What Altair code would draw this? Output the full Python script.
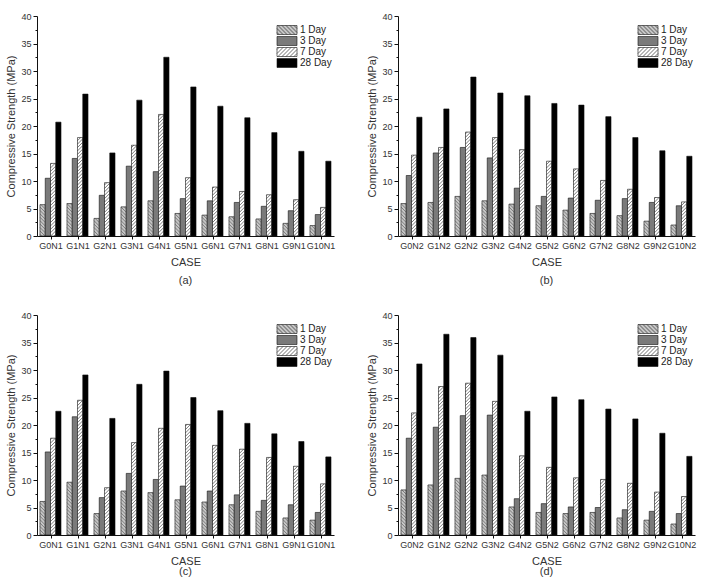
import json

import altair as alt
import pandas as pd

FONT = "Liberation Sans"

ages = ["1 Day", "3 Day", "7 Day", "28 Day"]
cases_n1 = ["G0N1", "G1N1", "G2N1", "G3N1", "G4N1", "G5N1",
            "G6N1", "G7N1", "G8N1", "G9N1", "G10N1"]
cases_n2 = ["G0N2", "G1N2", "G2N2", "G3N2", "G4N2", "G5N2",
            "G6N2", "G7N2", "G8N2", "G9N2", "G10N2"]

# (a) N1 series
a_day1 = [5.7, 5.9, 3.2, 5.3, 6.4, 4.1, 3.8, 3.5, 3.1, 2.3, 1.9]
a_day3 = [10.5, 14.1, 7.4, 12.7, 11.7, 6.8, 6.4, 6.1, 5.4, 4.6, 3.9]
a_day7 = [13.2, 17.9, 9.7, 16.5, 22.1, 10.6, 8.9, 8.1, 7.5, 6.6, 5.2]
a_day28 = [20.7, 25.8, 15.1, 24.7, 32.5, 27.1, 23.6, 21.5, 18.8, 15.4, 13.6]

# (b) N2 series
b_day1 = [5.9, 6.1, 7.2, 6.4, 5.8, 5.5, 4.7, 4.1, 3.7, 2.7, 2.0]
b_day3 = [11.0, 15.1, 16.1, 14.2, 8.7, 7.2, 6.9, 6.5, 6.8, 6.1, 5.5]
b_day7 = [14.7, 16.1, 18.9, 17.9, 15.7, 13.6, 12.2, 10.1, 8.5, 7.0, 6.2]
b_day28 = [21.6, 23.1, 28.9, 26.0, 25.5, 24.1, 23.8, 21.7, 17.9, 15.5, 14.5]

# (c) N1 series
c_day1 = [6.1, 9.6, 3.9, 8.0, 7.7, 6.4, 6.0, 5.5, 4.3, 3.1, 2.7]
c_day3 = [15.1, 21.5, 6.8, 11.2, 10.1, 8.9, 8.0, 7.3, 6.3, 5.5, 4.1]
c_day7 = [17.6, 24.5, 8.6, 16.8, 19.4, 20.1, 16.3, 15.6, 14.1, 12.5, 9.3]
c_day28 = [22.5, 29.1, 21.2, 27.4, 29.8, 25.0, 22.6, 20.3, 18.4, 17.0, 14.2]

# (d) N2 series
d_day1 = [8.2, 9.1, 10.3, 10.9, 5.1, 4.1, 3.9, 4.1, 3.1, 2.7, 2.0]
d_day3 = [17.6, 19.6, 21.7, 21.8, 6.6, 5.7, 5.1, 5.0, 4.6, 4.3, 3.9]
d_day7 = [22.2, 27.0, 27.6, 24.3, 14.4, 12.3, 10.4, 10.1, 9.4, 7.8, 7.0]
d_day28 = [31.1, 36.5, 35.9, 32.7, 22.5, 25.1, 24.6, 22.9, 21.1, 18.5, 14.3]

# styling
age_fills = ["#c6c6c6", "#7a7a7a", "#ffffff", "#000000"]
outline = "#111111"
hatch_dir = {"1 Day": -1, "7 Day": 1}          # -1 = "\\", +1 = "/"
hatch_ink = ["#4a4a4a", "#222222"]
y_ticks = [i * 2.5 for i in range(17)]

GROUP_PAD = 0.11            # gap before each group, in category steps
BAR_W = (1 - 2 * GROUP_PAD) / len(ages)
HATCH_RISE = 0.96           # MPa climbed across one bar width (about 45 deg)
HATCH_STEP = 0.62           # MPa between hatch lines


def bar_table(cases, series):
    rows = []
    for k, (age, values) in enumerate(zip(ages, series)):
        for i, (case, v) in enumerate(zip(cases, values)):
            left = i + GROUP_PAD + k * BAR_W
            rows.append({"case": case, "age": age, "strength": v,
                         "left": left, "right": left + BAR_W})
    return pd.DataFrame(rows)


def hatch_table(bars):
    rows = []
    for _, b in bars.iterrows():
        s = hatch_dir.get(b["age"])
        if s is None:
            continue
        v = b["strength"]
        y0 = -HATCH_RISE if s > 0 else 0.0
        top = v if s > 0 else v + HATCH_RISE
        y0 += HATCH_STEP / 2
        while y0 < top:
            if s > 0:
                t_lo, t_hi = -y0 / HATCH_RISE, (v - y0) / HATCH_RISE
            else:
                t_lo, t_hi = (y0 - v) / HATCH_RISE, y0 / HATCH_RISE
            t_lo, t_hi = max(t_lo, 0.0), min(t_hi, 1.0)
            if t_hi - t_lo > 0.04:
                rows.append({
                    "age": b["age"],
                    "hx0": b["left"] + t_lo * BAR_W,
                    "hx1": b["left"] + t_hi * BAR_W,
                    "hy0": y0 + s * HATCH_RISE * t_lo,
                    "hy1": y0 + s * HATCH_RISE * t_hi,
                })
            y0 += HATCH_STEP
    return pd.DataFrame(rows)


def swatch_path(direction):
    """Legend swatch: 20 x 9 px box (unit = 4 px) with optional hatching."""
    a, b = 2.5, 1.125
    parts = [f"M{-a},{-b}H{a}V{b}H{-a}Z"]
    if direction:
        x = -a - 2 * b + 0.5
        while x < a:
            t_lo = max(0.0, (-a - x) / (2 * b))
            t_hi = min(1.0, (a - x) / (2 * b))
            if t_hi > t_lo:
                x1, x2 = x + 2 * b * t_lo, x + 2 * b * t_hi
                if direction < 0:
                    y1, y2 = -b + 2 * b * t_lo, -b + 2 * b * t_hi
                else:
                    y1, y2 = b - 2 * b * t_lo, b - 2 * b * t_hi
                parts.append(f"M{x1:.3f},{y1:.3f}L{x2:.3f},{y2:.3f}")
            x += 1.0
    return "".join(parts)


swatches = [swatch_path(hatch_dir.get(age, 0)) for age in ages]


def age_legend():
    return alt.Legend(
        title=None, orient="none", legendX=245, legendY=9, padding=0,
        symbolSize=64, symbolOpacity=1,
        symbolStrokeColor=outline, symbolStrokeWidth=0.6,
        labelFont=FONT, labelFontSize=10, labelColor="#222",
        labelOffset=8, rowPadding=-1,
    )


def panel(cases, series, caption, caption_offset):
    bars = bar_table(cases, series)
    hatch = hatch_table(bars)
    x_scale = alt.Scale(domain=[0, len(cases)], nice=False, zero=False)
    y_scale = alt.Scale(domain=[0, 40], nice=False)
    x_axis = alt.Axis(
        values=[i + 0.5 for i in range(len(cases))],
        labelExpr=f"{json.dumps(cases)}[floor(datum.value)]",
        labelAngle=0, tickSize=3, labelPadding=2, labelFontSize=9,
        titleFontSize=11, titlePadding=6, grid=False,
    )
    y_axis = alt.Axis(
        values=y_ticks,
        labelExpr="datum.value % 5 === 0 ? datum.label : ''",
        tickSize={"condition": {"test": "datum.value % 5 !== 0", "value": 2},
                  "value": 4},
        labelPadding=2, labelFontSize=9, titleFontSize=11,
        titlePadding=4, grid=False,
    )

    def xq(field):
        return alt.X(field, type="quantitative", scale=x_scale,
                     title="CASE", axis=x_axis)

    def yq(field):
        return alt.Y(field, type="quantitative", scale=y_scale,
                     title="Compressive Strength (MPa)", axis=y_axis)

    fill = alt.Fill("age:N", sort=ages,
                    scale=alt.Scale(domain=ages, range=age_fills),
                    legend=age_legend())

    bar_layer = alt.Chart(bars).mark_rect(stroke=outline, strokeWidth=0.6).encode(
        x=xq("left"), x2="right:Q",
        y=yq("strength"), y2=alt.Y2(datum=0),
        fill=fill,
    )

    hatch_layer = alt.Chart(hatch).mark_rule(strokeWidth=0.6).encode(
        x=xq("hx0"), x2="hx1:Q",
        y=yq("hy0"), y2="hy1:Q",
        color=alt.Color("age:N", scale=alt.Scale(domain=list(hatch_dir),
                                                 range=hatch_ink),
                        legend=None),
    )

    # invisible points carry swatch shapes and outlines into the legend
    key_layer = alt.Chart(bars).mark_point(
        filled=True, strokeWidth=0.6, opacity=0, size=0
    ).encode(
        x=xq("left"),
        y=yq("strength"),
        fill=fill,
        shape=alt.Shape("age:N", sort=ages,
                        scale=alt.Scale(domain=ages, range=swatches),
                        legend=age_legend()),
        stroke=alt.Stroke("age:N", sort=ages,
                          scale=alt.Scale(domain=ages,
                                          range=[outline] * len(ages)),
                          legend=age_legend()),
    )

    return alt.layer(
        bar_layer, hatch_layer, key_layer,
        title=alt.Title(caption, orient="bottom", anchor="middle",
                        fontSize=11, font=FONT, fontWeight="normal",
                        color="#333", offset=caption_offset),
    ).properties(width=297, height=220)


pa = panel(cases_n1, [a_day1, a_day3, a_day7, a_day28], "(a)", 8)
pb = panel(cases_n2, [b_day1, b_day3, b_day7, b_day28], "(b)", 8)
pc = panel(cases_n1, [c_day1, c_day3, c_day7, c_day28], "(c)", 0)
pd_ = panel(cases_n2, [d_day1, d_day3, d_day7, d_day28], "(d)", 0)


def independent(c):
    return (c.resolve_scale(fill="independent", shape="independent",
                            stroke="independent")
             .resolve_legend(fill="independent", shape="independent",
                             stroke="independent"))


top = independent(alt.hconcat(pa, pb, spacing=31))
bottom = independent(alt.hconcat(pc, pd_, spacing=31))

chart = (
    independent(alt.vconcat(top, bottom, spacing=25))
    .properties(padding={"left": 5, "top": 12, "right": 5, "bottom": 0})
    .configure(font=FONT, background="white")
    .configure_view(stroke=None)
    .configure_axis(domainColor="#111", tickColor="#111", labelColor="#333",
                    titleColor="#333", labelFont=FONT, titleFont=FONT,
                    titleFontWeight="normal", domainWidth=1, tickWidth=1)
)

chart.save("out.html", embed_options={"renderer": "svg", "actions": False})
